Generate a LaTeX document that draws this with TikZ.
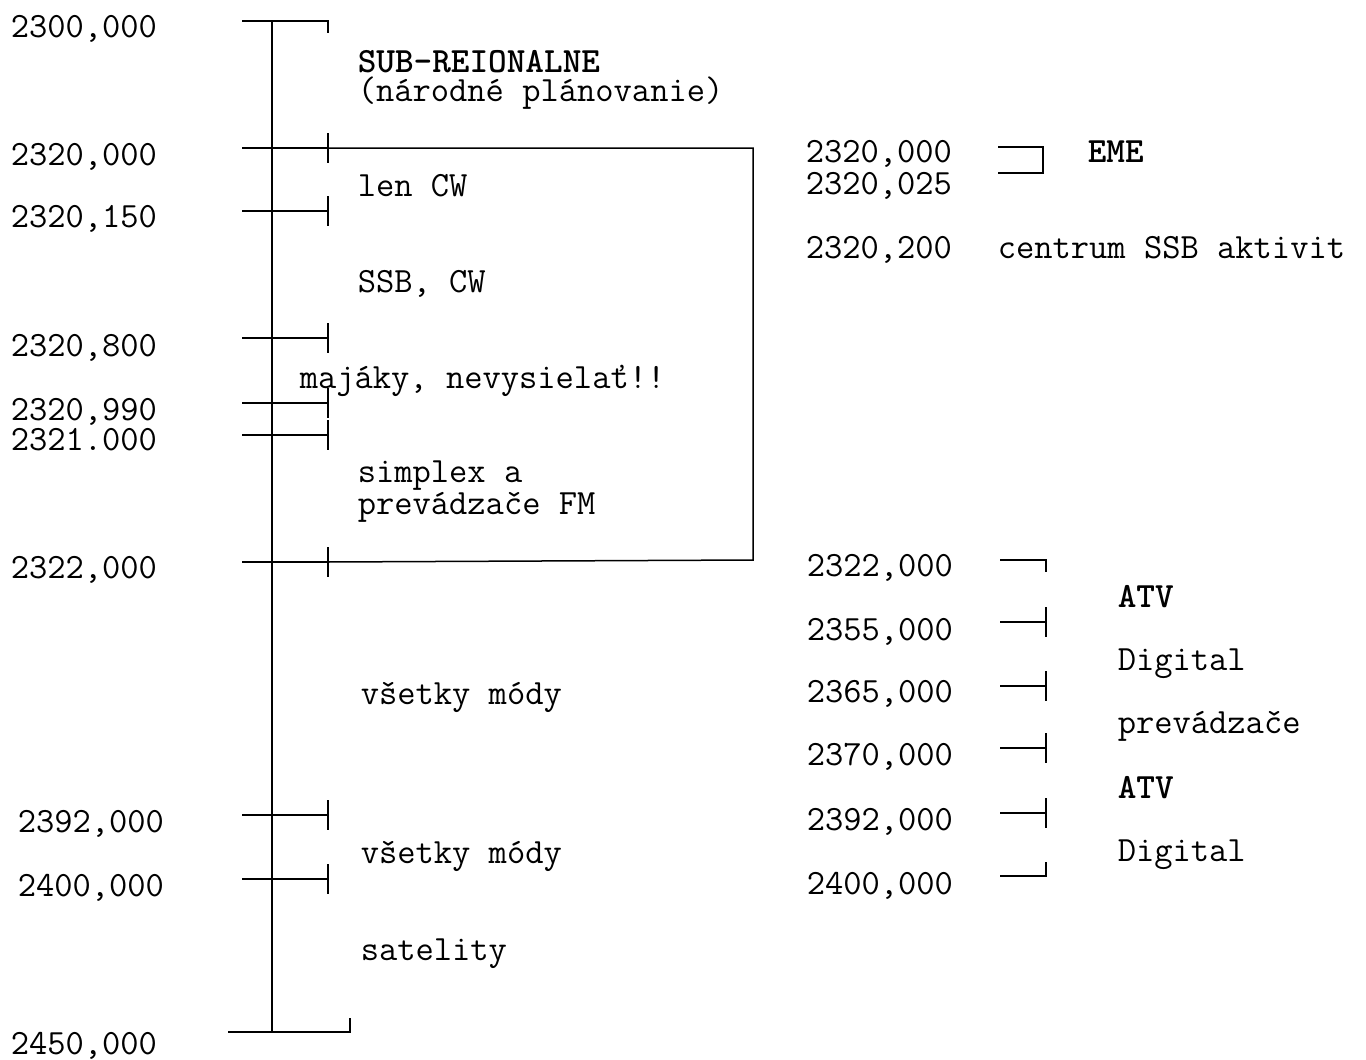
\documentclass[tikz,border=0pt]{standalone}
\usepackage{fontspec}
\begin{document}
\begin{tikzpicture}[x=1pt,y=-1pt,line width=1.5pt,
    txt/.style={anchor=base west,inner sep=0pt,font=\ttfamily\fontsize{35.5}{38}\selectfont},
    txtb/.style={txt,font=\ttfamily\bfseries\fontsize{35.5}{38}\selectfont}]
    \useasboundingbox (0,0) rectangle (1366,1060);

    % main axis
    \coordinate (T) at (272,21);
    \coordinate (U) at (272,1032);
    \draw (T) -- (U);
    \draw (242,21) -- (328,21) -- (328,33);
    \draw (228,1032) -- (350,1032) -- (350,1018);

    % ticks on the axis
    \foreach \y in {148,211,338,403,435,562,815,879}
        \draw (242,\y) -- (328,\y) (328,\y-15) -- (328,\y+15);

    % box round 2320 - 2322
    \draw (328,148) -- (753,148) -- (753,560) -- (328,562);

    % frequencies on the left
    \node[txt] (f2300) at (10,37) {2300,000};
    \node[txt] (f2320) at (10,165) {2320,000};
    \node[txt] (f23201) at (10,227) {2320,150};
    \node[txt] (f23208) at (10,356) {2320,800};
    \node[txt] (f23209) at (10,420) {2320,990};
    \node[txt] (f2321) at (10,450) {2321.000};
    \node[txt] (f2322) at (10,578) {2322,000};
    \node[txt] (f2392) at (17,832) {2392,000};
    \node[txt] (f2400) at (17,896) {2400,000};
    \node[txt] (f2450) at (10,1054) {2450,000};

    % segments
    \node[txtb] (sub) at (357,72) {SUB-REIONALNE};
    \node[txt] (nar) at (357,101) {(národné plánovanie)};
    \node[txt] (cw) at (357,196) {len CW};
    \node[txt] (ssb) at (357,292) {SSB, CW};
    \node[txt] (maj) at (299,388) {majáky, nevysielať!!};
    \node[txt] (sim) at (357,482) {simplex a};
    \node[txt] (fm) at (357,514) {prevádzače FM};
    \node[txt] (all1) at (360,704) {všetky módy};
    \node[txt] (all2) at (360,863) {všetky módy};
    \node[txt] (sat) at (360,960) {satelity};

    % right side, top
    \node[txt] (r2320) at (805,162) {2320,000};
    \node[txt] (r23202) at (805,194) {2320,025};
    \draw (998,147) -- (1043,147) -- (1043,173) -- (998,173);
    \node[txtb] (eme) at (1087,162) {EME};
    \node[txt] (r23200) at (805,258) {2320,200};
    \node[txt] (cen) at (997,258) {centrum SSB aktivit};

    % right side, bottom
    \node[txt] (r2322) at (806,576) {2322,000};
    \node[txt] (r2355) at (806,640) {2355,000};
    \node[txt] (r2365) at (806,702) {2365,000};
    \node[txt] (r2370) at (806,765) {2370,000};
    \node[txt] (r2392) at (806,830) {2392,000};
    \node[txt] (r2400) at (806,894) {2400,000};
    \draw (1000,560) -- (1046,560) -- (1046,572);
    \foreach \y in {622,686,748,813}
        \draw (1000,\y) -- (1046,\y) (1046,\y-15) -- (1046,\y+15);
    \draw (1000,876) -- (1046,876) -- (1046,862);
    \node[txtb] (atv1) at (1117,607) {ATV};
    \node[txt] (dig1) at (1117,670) {Digital};
    \node[txt] (rep) at (1117,733) {prevádzače};
    \node[txtb] (atv2) at (1117,798) {ATV};
    \node[txt] (dig2) at (1117,861) {Digital};
\end{tikzpicture}
\end{document}
